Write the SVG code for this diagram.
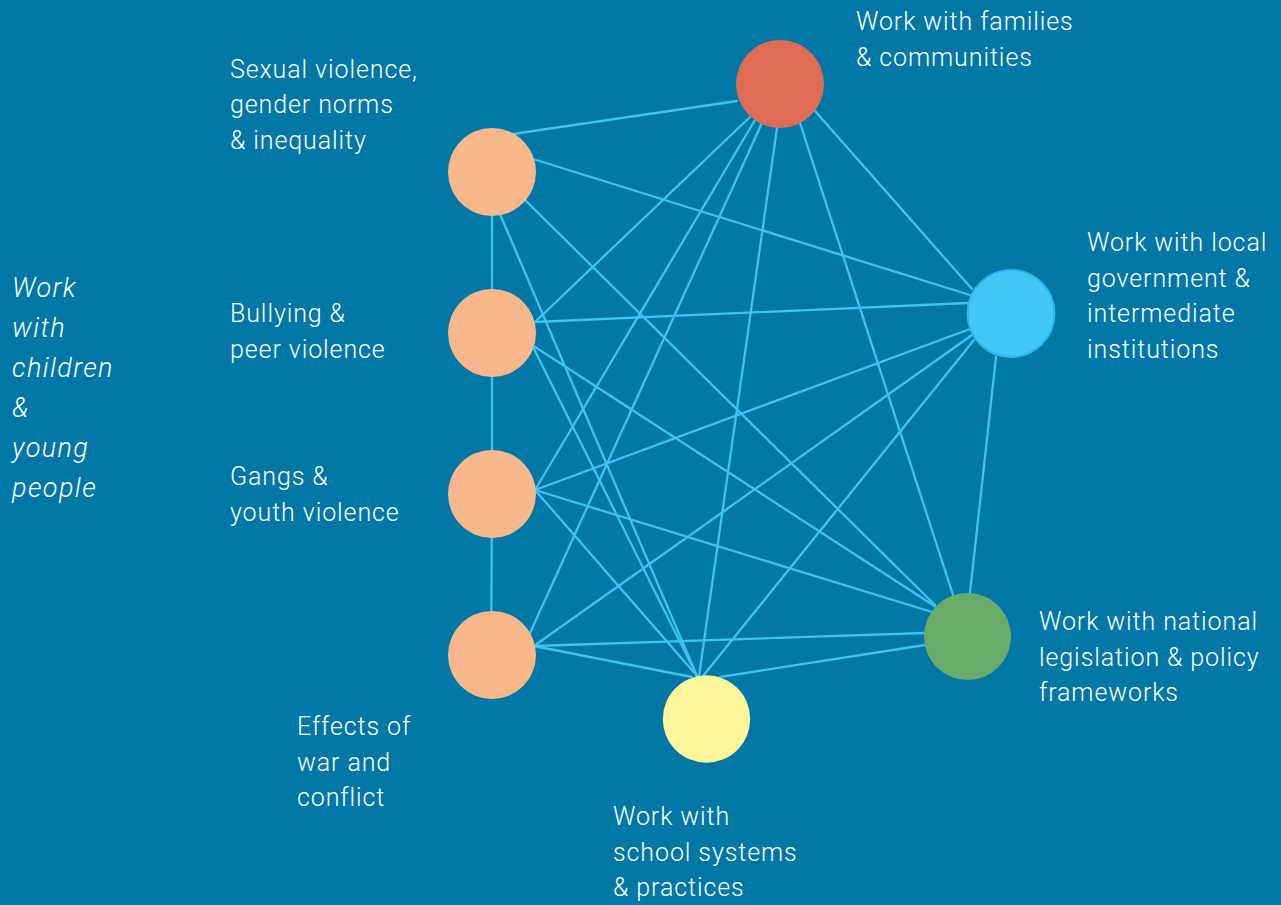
<svg xmlns="http://www.w3.org/2000/svg" width="1281" height="905" viewBox="0 0 1281 905">
<style>
.bg{fill:#0077a5}
.e line{stroke:#3fc3f0;stroke-width:2.3;stroke-linecap:round}
.t{font-family:Roboto,"Liberation Sans",sans-serif;font-weight:300;font-size:25px;letter-spacing:0.9px;fill:#ffffff}
.i{font-family:Roboto,"Liberation Sans",sans-serif;font-weight:300;font-style:italic;font-size:27px;letter-spacing:1.4px;fill:#ffffff}
.o{fill:#f8b88c}
</style>
<rect class="bg" x="0" y="0" width="1281" height="905"/>
<g id="connectors" class="e">
<line x1="492" y1="172" x2="492" y2="333"/>
<line x1="492" y1="333" x2="492" y2="494"/>
<line x1="492" y1="494" x2="491" y2="655"/>
<line x1="513" y1="134" x2="737" y2="101"/>
<line x1="533" y1="159" x2="970" y2="295"/>
<line x1="525" y1="200" x2="935" y2="605"/>
<line x1="500" y1="214" x2="697" y2="676"/>
<line x1="535" y1="322" x2="750" y2="117"/>
<line x1="535" y1="322" x2="968" y2="303"/>
<line x1="532" y1="345" x2="936" y2="607"/>
<line x1="532" y1="345" x2="697" y2="676"/>
<line x1="535" y1="490" x2="755" y2="120"/>
<line x1="535" y1="490" x2="970" y2="329"/>
<line x1="535" y1="490" x2="932" y2="612"/>
<line x1="535" y1="490" x2="697" y2="676"/>
<line x1="530" y1="633" x2="762" y2="123"/>
<line x1="534" y1="646" x2="972" y2="335"/>
<line x1="534" y1="646" x2="924" y2="633"/>
<line x1="534" y1="646" x2="692" y2="677"/>
<line x1="815" y1="111" x2="972" y2="289"/>
<line x1="800" y1="123" x2="953" y2="595"/>
<line x1="777" y1="128" x2="699" y2="676"/>
<line x1="996" y1="357" x2="970" y2="593"/>
<line x1="974" y1="340" x2="703" y2="676"/>
<line x1="925" y1="645" x2="720" y2="677"/>
</g>
<g id="n-sexual"><circle class="o" cx="492" cy="172" r="44"/><text class="t" x="230" y="78">Sexual violence,</text><text class="t" x="230" y="113">gender norms</text><text class="t" x="230" y="149">&amp; inequality</text></g>
<g id="n-bullying"><circle class="o" cx="492" cy="333" r="44"/><text class="t" x="230" y="322">Bullying &amp;</text><text class="t" x="230" y="358">peer violence</text></g>
<g id="n-gangs"><circle class="o" cx="492" cy="494" r="44"/><text class="t" x="230" y="485">Gangs &amp;</text><text class="t" x="230" y="521">youth violence</text></g>
<g id="n-war"><circle class="o" cx="492" cy="655" r="44"/><text class="t" x="297" y="735">Effects of</text><text class="t" x="297" y="771">war and</text><text class="t" x="297" y="806">conflict</text></g>
<g id="n-families"><circle cx="780" cy="84" r="44" fill="#df6c54"/><text class="t" x="856" y="30">Work with families</text><text class="t" x="856" y="66">&amp; communities</text></g>
<g id="n-local"><circle cx="1011" cy="313.5" r="43.5" fill="#42c8f6" stroke="#2bb8ea" stroke-width="2"/><text class="t" x="1087" y="251">Work with local</text><text class="t" x="1087" y="287">government &amp;</text><text class="t" x="1087" y="322">intermediate</text><text class="t" x="1087" y="358">institutions</text></g>
<g id="n-national"><circle cx="967.5" cy="636.5" r="43.5" fill="#6aab6a"/><text class="t" x="1039" y="630">Work with national</text><text class="t" x="1039" y="666">legislation &amp; policy</text><text class="t" x="1039" y="701">frameworks</text></g>
<g id="n-school"><circle cx="706.5" cy="719" r="43.7" fill="#fff799"/><text class="t" x="613" y="825">Work with</text><text class="t" x="613" y="861">school systems</text><text class="t" x="613" y="896">&amp; practices</text></g>
<g id="n-children"><text class="i" x="12" y="297">Work</text><text class="i" x="12" y="337">with</text><text class="i" x="12" y="377">children</text><text class="i" x="12" y="417">&amp;</text><text class="i" x="12" y="457">young</text><text class="i" x="12" y="497">people</text></g>
</svg>
